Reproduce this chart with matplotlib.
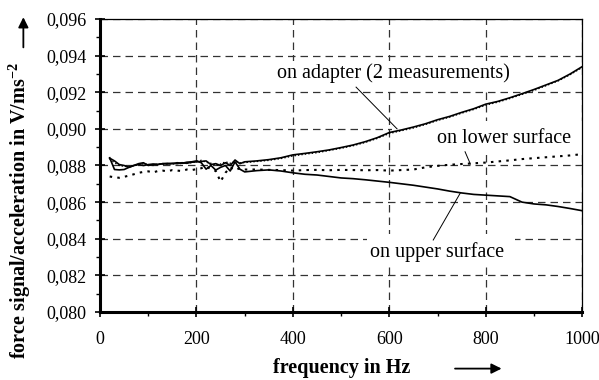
import matplotlib
matplotlib.use('Agg')
import matplotlib.pyplot as plt
from matplotlib.patches import Rectangle, FancyArrowPatch
from matplotlib.ticker import MultipleLocator, FuncFormatter

plt.rcParams['font.family'] = ['Liberation Serif', 'DejaVu Serif']
plt.rcParams['mathtext.fontset'] = 'custom'
plt.rcParams['mathtext.rm'] = 'Liberation Serif'
plt.rcParams['mathtext.bf'] = 'Liberation Serif:bold'

# --- data ---
freq = [20, 30, 40, 50, 60, 70, 80, 90, 100, 110, 120, 130, 140, 150, 160,
        170, 180, 190, 200, 210, 220, 230, 240, 250, 260, 270, 280, 290, 300,
        325, 350, 375, 400, 425, 450, 475, 500, 525, 550, 575, 600, 625, 650,
        675, 700, 725, 750, 775, 800, 825, 850, 875, 900, 925, 950, 975, 1000]

adapter_1 = [0.08840, 0.08825, 0.08805, 0.08800, 0.08790, 0.08800, 0.08810,
             0.08815, 0.08800, 0.08805, 0.08805, 0.08810, 0.08808, 0.08812,
             0.08810, 0.08815, 0.08812, 0.08818, 0.08820, 0.08822, 0.08825,
             0.08805, 0.08810, 0.08800, 0.08815, 0.08800, 0.08830, 0.08810,
             0.08820, 0.08825, 0.08832, 0.08842, 0.08858, 0.08866, 0.08875,
             0.08885, 0.08898, 0.08912, 0.08930, 0.08952, 0.08980, 0.08994,
             0.09010, 0.09028, 0.09050, 0.09068, 0.09090, 0.09110, 0.09135,
             0.09150, 0.09170, 0.09192, 0.09215, 0.09240, 0.09265, 0.09300,
             0.09340]

adapter_2 = [0.08835, 0.08815, 0.08800, 0.08795, 0.08795, 0.08798, 0.08805,
             0.08810, 0.08805, 0.08800, 0.08808, 0.08806, 0.08810, 0.08808,
             0.08812, 0.08810, 0.08815, 0.08815, 0.08822, 0.08828, 0.08818,
             0.08812, 0.08800, 0.08808, 0.08820, 0.08812, 0.08822, 0.08815,
             0.08816, 0.08822, 0.08828, 0.08838, 0.08852, 0.08862, 0.08870,
             0.08882, 0.08894, 0.08908, 0.08926, 0.08948, 0.08975, 0.08990,
             0.09005, 0.09024, 0.09046, 0.09064, 0.09086, 0.09106, 0.09130,
             0.09146, 0.09166, 0.09188, 0.09210, 0.09236, 0.09262, 0.09296,
             0.09336]

lower_surface = [0.08740, 0.08735, 0.08733, 0.08738, 0.08745, 0.08752, 0.08760,
                 0.08765, 0.08768, 0.08762, 0.08770, 0.08772, 0.08768, 0.08775,
                 0.08772, 0.08770, 0.08778, 0.08775, 0.08780, 0.08785, 0.08795,
                 0.08780, 0.08770, 0.08712, 0.08760, 0.08790, 0.08775, 0.08785,
                 0.08778, 0.08778, 0.08776, 0.08775, 0.08772, 0.08775, 0.08776,
                 0.08774, 0.08776, 0.08775, 0.08774, 0.08775, 0.08772, 0.08775,
                 0.08778, 0.08790, 0.08798, 0.08804, 0.08808, 0.08812, 0.08816,
                 0.08822, 0.08828, 0.08835, 0.08840, 0.08845, 0.08850, 0.08855,
                 0.08862]

upper_surface = [0.08842, 0.08778, 0.08776, 0.08778, 0.08790, 0.08800, 0.08805,
                 0.08800, 0.08805, 0.08808, 0.08806, 0.08810, 0.08812, 0.08810,
                 0.08815, 0.08812, 0.08818, 0.08820, 0.08825, 0.08815, 0.08780,
                 0.08800, 0.08775, 0.08790, 0.08800, 0.08770, 0.08820, 0.08780,
                 0.08765, 0.08772, 0.08776, 0.08770, 0.08760, 0.08752, 0.08748,
                 0.08740, 0.08732, 0.08728, 0.08722, 0.08715, 0.08708, 0.08700,
                 0.08692, 0.08682, 0.08672, 0.08660, 0.08650, 0.08642, 0.08638,
                 0.08634, 0.08630, 0.08600, 0.08590, 0.08585, 0.08576, 0.08565,
                 0.08553]

fig = plt.figure(figsize=(5.99, 3.80), dpi=100)
ax = fig.add_axes([0.167, 0.179, 0.805, 0.771])

ax.plot(freq, adapter_1, color='black', lw=1.2)
ax.plot(freq, adapter_2, color='black', lw=1.0, ls=(0, (1, 1.5)))
ax.plot(freq, lower_surface, color='black', lw=1.5, ls=(0, (1.2, 2.5)))
ax.plot(freq, upper_surface, color='black', lw=1.2)

ax.set_xlim(0, 1000)
ax.set_ylim(0.080, 0.096)
ax.xaxis.set_major_locator(MultipleLocator(200))
ax.xaxis.set_minor_locator(MultipleLocator(100))
ax.yaxis.set_major_locator(MultipleLocator(0.002))
ax.yaxis.set_minor_locator(MultipleLocator(0.001))
ax.yaxis.set_major_formatter(FuncFormatter(lambda v, p: f'{v:.3f}'.replace('.', ',')))
ax.xaxis.set_major_formatter(FuncFormatter(lambda v, p: f'{v:.0f}'))

ax.tick_params(which='major', direction='inout', length=7, width=1.2,
               labelsize=13, pad=6)
ax.tick_params(which='minor', direction='out', length=3, width=1)
ax.tick_params(axis='x', which='major', pad=10)

ax.grid(True, which='major', color='#333333', ls=(0, (6, 4)), lw=0.9)
for side in ['left', 'bottom']:
    ax.spines[side].set_linewidth(2.2)
for side in ['top', 'right']:
    ax.spines[side].set_linewidth(0.9)

# white label boxes hide the grid under the annotations (curves stay on top)
for x0, y0, w, h in [(353, 0.09223, 508, 0.00148),
                     (606, 0.08884, 394, 0.00159),
                     (554, 0.08256, 307, 0.00169)]:
    ax.add_patch(Rectangle((x0, y0), w, h, facecolor='white',
                           edgecolor='none', zorder=1.8))

# annotations
txt = dict(fontsize=14.5, ha='center', va='center', zorder=3)
ax.text(608, 0.09305, 'on adapter (2 measurements)', **txt)
ax.plot([531, 616], [0.09228, 0.0900], color='black', lw=0.7)
ax.text(838, 0.0895, 'on lower surface', **txt)
ax.plot([757, 768], [0.08875, 0.08808], color='black', lw=0.7)
ax.text(699, 0.08329, 'on upper surface', **txt)
ax.plot([691, 747], [0.08393, 0.08649], color='black', lw=0.7)

# axis labels with arrows
fig.text(0.032, 0.447, r'force signal/acceleration in V/ms$^{\mathbf{-2}}$',
         rotation=90, ha='center', va='center', fontsize=14.5, fontweight='bold')
fig.add_artist(FancyArrowPatch(
    (0.039, 0.868), (0.039, 0.962), transform=fig.transFigure,
    arrowstyle='-|>,head_length=6,head_width=3', color='black', lw=1.3))
fig.text(0.571, 0.018, 'frequency in Hz', ha='center', va='baseline',
         fontsize=14.5, fontweight='bold')
fig.add_artist(FancyArrowPatch(
    (0.755, 0.030), (0.842, 0.030), transform=fig.transFigure,
    arrowstyle='-|>,head_length=6,head_width=3', color='black', lw=1.3))

fig.savefig('out.png', dpi=100)
